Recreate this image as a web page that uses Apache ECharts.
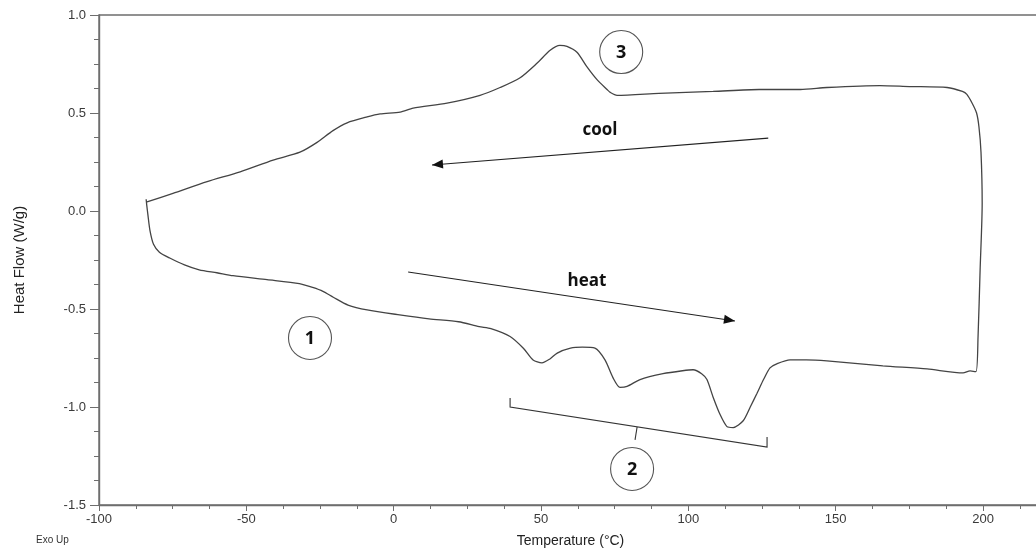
<!DOCTYPE html>
<html>
<head>
<meta charset="utf-8">
<title>DSC heat / cool cycle</title>
<script src="https://cdn.jsdelivr.net/npm/echarts@6/dist/echarts.min.js"></script>
<style>
  html, body { margin: 0; padding: 0; background: #fff; }
  #chart { width: 1036px; height: 548px; }
</style>
</head>
<body>
<div id="chart"></div>
<script>
// heating run (bottom trace)
const heatTemp = [-84.0, -83.8, -83.4, -82.7, -81.5, -79.5, -76, -71, -66, -60, -54.5, -43, -32, -27.5, -24, -20.5,
  -15.5, -9, 2, 12, 22, 29, 33, 39.5, 44, 47.3, 50.3, 53, 55.5, 60, 64, 68.3, 71.7, 74.4, 76.8, 79.2, 83.6, 91.4,
  98, 101.6, 104.5, 106.3, 108.4, 110.8, 113.1, 115.2, 118.6, 121, 123.3, 125.5, 127.7, 130, 134.5, 140, 147,
  166, 181, 193.2, 195.6, 197.6]
const heatFlow = [0.06, 0.03, -0.02, -0.10, -0.17, -0.21, -0.24, -0.275, -0.30, -0.315, -0.33, -0.35, -0.37, -0.39,
  -0.41, -0.44, -0.48, -0.505, -0.53, -0.55, -0.565, -0.59, -0.60, -0.64, -0.70, -0.76, -0.775, -0.755, -0.725,
  -0.70, -0.695, -0.70, -0.76, -0.85, -0.90, -0.895, -0.86, -0.83, -0.815, -0.81, -0.83, -0.86, -0.95, -1.04,
  -1.10, -1.105, -1.07, -1.00, -0.93, -0.86, -0.80, -0.78, -0.76, -0.76, -0.765, -0.79, -0.806, -0.826, -0.816,
  -0.82]

// cooling run (top trace), from the end of heating back down to the start
const coolTemp = [198.3, 199, 199.7, 199.3, 198.6, 197.8, 196.3, 194.5, 193, 187.8, 175, 165, 147, 138, 124, 108.4,
  90, 75.8, 73.5, 72.4, 69, 65.6, 62.2, 58.8, 56.4, 53.1, 48.7, 42.9, 36.1, 29.3, 18.1, 6.6, 2.2, -4.6, -9,
  -15.8, -20.6, -26, -31.8, -40.9, -52.1, -63.3, -74.9, -83.7]
const coolFlow = [-0.64, -0.30, 0.04, 0.30, 0.43, 0.50, 0.55, 0.595, 0.61, 0.63, 0.635, 0.64, 0.63, 0.62, 0.62, 0.61,
  0.60, 0.59, 0.605, 0.62, 0.67, 0.735, 0.81, 0.84, 0.845, 0.82, 0.755, 0.68, 0.63, 0.59, 0.55, 0.525, 0.505,
  0.495, 0.48, 0.45, 0.41, 0.35, 0.30, 0.26, 0.20, 0.15, 0.09, 0.046]

const xTicks = { min: -100, max: 220, step: 50 }
const yTicks = { min: -1.5, max: 1.0, step: 0.5 }

// annotations in data units
const circleNotes = [
  { label: '1', at: [-28.4, -0.648] },
  { label: '2', at: [80.9, -1.316] },
  { label: '3', at: [77.2, 0.811] }
]
const wordNotes = [
  { label: 'cool', at: [70.0, 0.413] },
  { label: 'heat', at: [65.6, -0.357] }
]
const arrowNotes = [
  { from: [127.1, 0.372], to: [13.0, 0.235] },
  { from: [4.9, -0.311], to: [115.8, -0.561] }
]
const bracketPts = [[39.5, -0.954], [39.5, -1.0], [126.7, -1.204], [126.7, -1.153]]
const bracketTick = [[82.6, -1.102], [81.9, -1.168]]

const loop = heatTemp.map((t, i) => [t, heatFlow[i]])
  .concat(coolTemp.map((t, i) => [t, coolFlow[i]]))

const chart = echarts.init(document.getElementById('chart'))

const axisGrey = '#6e6e6e'
const labelGrey = '#3a3a3a'
const font = '"Liberation Sans", Arial, sans-serif'

chart.setOption({
  animation: false,
  grid: {
    left: 99, top: 15, width: 943, height: 490,
    outerBoundsMode: 'none',
    show: true, borderColor: axisGrey, borderWidth: 1.4
  },
  xAxis: {
    type: 'value',
    min: xTicks.min, max: xTicks.max, interval: xTicks.step,
    name: 'Temperature (°C)',
    nameLocation: 'middle',
    nameGap: 29,
    nameTextStyle: { fontFamily: font, fontSize: 14, color: '#222' },
    axisLine: { onZero: false, lineStyle: { color: axisGrey, width: 1.4 } },
    axisTick: { show: true, length: 6, lineStyle: { color: axisGrey } },
    minorTick: { show: true, splitNumber: 4, length: 4, lineStyle: { color: axisGrey } },
    splitLine: { show: false },
    axisLabel: {
      fontFamily: font, fontSize: 13, color: labelGrey, margin: 8,
      showMaxLabel: false
    }
  },
  yAxis: {
    type: 'value',
    min: yTicks.min, max: yTicks.max, interval: yTicks.step,
    name: 'Heat Flow (W/g)',
    nameLocation: 'middle',
    nameGap: 72,
    nameTextStyle: { fontFamily: font, fontSize: 15, color: '#222' },
    axisLine: { show: true, onZero: false, lineStyle: { color: axisGrey, width: 1.4 } },
    axisTick: { show: true, length: 9, lineStyle: { color: axisGrey } },
    minorTick: { show: true, splitNumber: 4, length: 5, lineStyle: { color: axisGrey } },
    splitLine: { show: false },
    axisLabel: {
      fontFamily: font, fontSize: 13, color: labelGrey, margin: 13,
      formatter: v => v.toFixed(1)
    }
  },
  series: [{
    type: 'line',
    data: loop,
    showSymbol: false,
    smooth: 0.25,
    lineStyle: { color: '#444', width: 1.3 },
    z: 3
  }]
})

// annotations placed through the axes
const px = p => chart.convertToPixel({ gridIndex: 0 }, p)

function arrowHead(tip, tail, len, half) {
  const dx = tip[0] - tail[0], dy = tip[1] - tail[1]
  const d = Math.hypot(dx, dy)
  const ux = dx / d, uy = dy / d
  const bx = tip[0] - ux * len, by = tip[1] - uy * len
  return [tip, [bx - uy * half, by + ux * half], [bx + uy * half, by - ux * half]]
}

const graphics = []

circleNotes.forEach(n => {
  const c = px(n.at)
  graphics.push({
    type: 'circle', shape: { cx: c[0], cy: c[1], r: 21.5 },
    style: { fill: 'none', stroke: '#555', lineWidth: 1.1 }
  })
  graphics.push({
    type: 'text', x: c[0], y: c[1] + 1,
    style: {
      text: n.label, fill: '#111', align: 'center', verticalAlign: 'middle',
      font: 'bold 18px "Open Sans", sans-serif'
    }
  })
})

wordNotes.forEach(n => {
  const c = px(n.at)
  graphics.push({
    type: 'text', x: c[0], y: c[1],
    style: {
      text: n.label, fill: '#111', align: 'center', verticalAlign: 'middle',
      font: 'bold 17px "Open Sans", sans-serif'
    }
  })
})

arrowNotes.forEach(a => {
  const s = px(a.from), e = px(a.to)
  graphics.push({
    type: 'line', shape: { x1: s[0], y1: s[1], x2: e[0], y2: e[1] },
    style: { stroke: '#222', lineWidth: 1.1 }
  })
  graphics.push({
    type: 'polygon', shape: { points: arrowHead(e, s, 11, 4.5) },
    style: { fill: '#111' }
  })
})

graphics.push({
  type: 'polyline', shape: { points: bracketPts.map(px) },
  style: { stroke: '#333', lineWidth: 1.1, fill: 'none' }
})
graphics.push({
  type: 'polyline', shape: { points: bracketTick.map(px) },
  style: { stroke: '#333', lineWidth: 1.1, fill: 'none' }
})

graphics.push({
  type: 'text', left: 36, top: 535,
  style: { text: 'Exo Up', fill: '#333', font: '10px ' + font }
})

chart.setOption({ graphic: graphics })
</script>
</body>
</html>
